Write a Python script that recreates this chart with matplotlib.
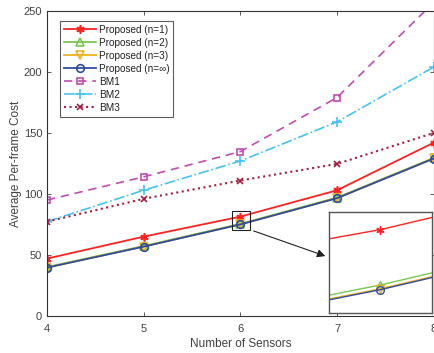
import matplotlib
matplotlib.use("Agg")
import matplotlib.pyplot as plt
from matplotlib.patches import Rectangle

plt.rcParams['font.family'] = ['Liberation Sans', 'DejaVu Sans']

sensors = [4, 5, 6, 7, 8]
prop_n1 = [47, 65, 81.4, 103, 142]
prop_n2 = [40.1, 57.3, 75.5, 97.0, 129.5]
prop_n3 = [39.7, 56.9, 75.1, 96.6, 129.1]
prop_inf = [39.6, 56.8, 75.0, 96.5, 129.0]
bm1 = [95, 114, 134.7, 179, 257]
bm2 = [77.3, 103, 127, 159, 204]
bm3 = [77.3, 96, 111, 124.6, 150]

labels = ['Proposed (n=1)', 'Proposed (n=2)', 'Proposed (n=3)',
          'Proposed (n=\u221e)', 'BM1', 'BM2', 'BM3']

styles = [
    dict(color='#FF2222', ls='-', marker=(6, 2, 0), ms=6, lw=1.3, mfc='none'),
    dict(color='#77C84E', ls='-', marker='^', ms=5.5, lw=1.3, mfc='none'),
    dict(color='#EDB120', ls='-', marker='v', ms=5.5, lw=1.3, mfc='none'),
    dict(color='#2F4C9E', ls='-', marker='o', ms=5.5, lw=1.3, mfc='none'),
    dict(color='#C04DB0', ls=(0, (5, 3.5)), marker='s', ms=5, lw=1.2, mfc='none'),
    dict(color='#45C3F0', ls='-.', marker='+', ms=6.5, lw=1.2, mfc='none'),
    dict(color='#A2203F', ls=':', marker='x', ms=4.5, lw=1.5, mfc='none'),
]
series = [prop_n1, prop_n2, prop_n3, prop_inf, bm1, bm2, bm3]

fig = plt.figure(figsize=(4.35, 3.53), dpi=100)
ax = fig.add_axes([0.108, 0.105, 0.889, 0.864])
txtc = '#404040'
for ys, st, lab in zip(series, styles, labels):
    ax.plot(sensors, ys, label=lab, color=st['color'], ls=st['ls'], lw=st['lw'],
            marker=st['marker'], ms=st['ms'], mfc=st['mfc'], mec=st['color'], mew=1.2)

ax.set_xlim(4, 8)
ax.set_ylim(0, 250)
ax.set_xticks([4, 5, 6, 7, 8])
ax.set_yticks([0, 50, 100, 150, 200, 250])
ax.tick_params(direction='in', top=True, right=True, labelsize=8, colors=txtc,
               length=3, width=0.6)
ax.tick_params(axis='x', pad=6)
for sp in ax.spines.values():
    sp.set_color('#333333')
    sp.set_linewidth(0.8)
ax.set_xlabel('Number of Sensors', fontsize=8.5, color=txtc, labelpad=3)
ax.set_ylabel('Average Per-frame Cost', fontsize=8.5, color=txtc, labelpad=1)

leg = ax.legend(loc='upper left', fontsize=7.2, frameon=True, fancybox=False,
                edgecolor='#333333', handlelength=3.2, handletextpad=0.3,
                labelspacing=0.3, borderpad=0.4, bbox_to_anchor=(0.02, 0.985))
leg.get_frame().set_linewidth(0.8)
for t in leg.get_texts():
    t.set_color('#222222')

# zoom rectangle
ax.add_patch(Rectangle((5.91, 70.5), 0.19, 15.8, fill=False, ec='#222222', lw=0.8, zorder=5))
ax.annotate('', xy=(328, 353 - 257), xycoords='figure pixels',
            xytext=(251, 353 - 230), textcoords='figure pixels',
            arrowprops=dict(arrowstyle='-|>', color='#222222', lw=0.8,
                            mutation_scale=12))

ins = fig.add_axes([0.756, 0.113, 0.237, 0.287])
for ys, st in zip(series, styles):
    ins.plot(sensors, ys, color=st['color'], ls=st['ls'], lw=1.0,
             marker=st['marker'], ms=st['ms'], mfc=st['mfc'], mec=st['color'], mew=1.0)
ins.set_xlim(5.94, 6.06)
ins.set_ylim(72.5, 83.3)
ins.set_xticks([])
ins.set_yticks([])
for sp in ins.spines.values():
    sp.set_color('#555555')
    sp.set_linewidth(1.0)

fig.savefig('out.png', dpi=100)
